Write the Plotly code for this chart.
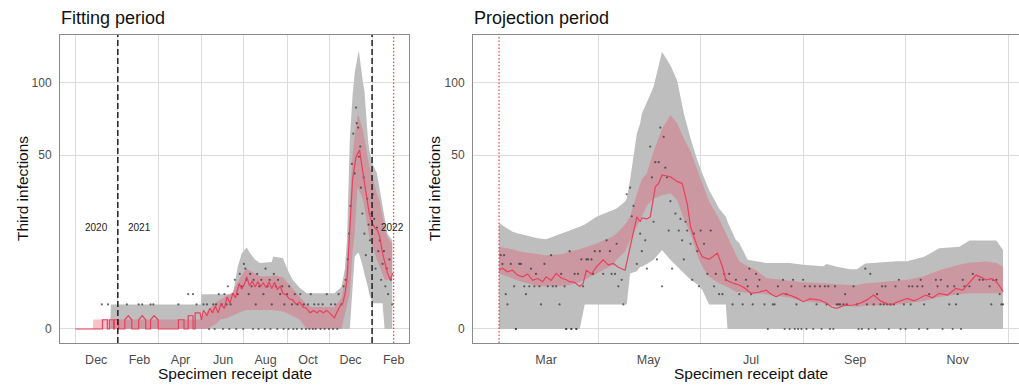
import numpy as np
import plotly.graph_objects as go

W, H = 1019, 385

# ---------------- Fitting period data ----------------
fit_band_dates = ["2020-11-01", "2020-11-26", "2020-11-27", "2020-12-21", "2020-12-22", "2021-04-30",
                  "2021-05-01", "2021-05-09", "2021-05-23", "2021-05-28", "2021-06-07", "2021-06-15",
                  "2021-06-18", "2021-06-22", "2021-06-28", "2021-07-05", "2021-07-10", "2021-07-17",
                  "2021-07-24", "2021-08-10", "2021-08-12", "2021-08-26", "2021-09-02", "2021-09-09",
                  "2021-09-19", "2021-09-29", "2021-10-06", "2021-11-08", "2021-11-18", "2021-11-23",
                  "2021-11-26", "2021-11-30", "2021-12-04", "2021-12-07", "2021-12-11", "2021-12-13",
                  "2021-12-19", "2021-12-21", "2021-12-26", "2021-12-28", "2022-01-02", "2022-01-08",
                  "2022-01-12", "2022-01-16", "2022-01-19", "2022-01-23", "2022-01-30"]
fit_grey_lo = [0, 0, 0, 0, 0, 0, 0, 0, 0, 0, 0, 0, 0, 0, 0, 0, 0, 0, 0, 0, 0, 0, 0, 0, 0, 0, 0, 0, 0, 0,
               0, 0, 2.1, 8.6, 9.5, 9.5, 6.3, 5, 2.9, 2, 1.1, 1.1, 1.1, 1.1, 0, 0, 0]
fit_grey_hi = [0, 0, 0, 0, 1, 1, 2, 2, 2, 2, 2, 2, 3.5, 6.3, 9.5, 11, 9.5, 7.9, 7.2, 7.4, 8.6, 8.3, 5.7,
               4.0, 2.8, 2.1, 2.1, 2.1, 2.9, 6, 13, 59, 90, 108, 122, 128, 100, 94, 60, 53, 45, 40, 32,
               25, 20, 15, 13]
fit_pink_lo = [0, 0, 0, 0, 0, 0, 0, 0, 0.05, 0.15, 0.2, 0.3, 0.35, 0.4, 0.5, 0.6, 0.6, 0.6, 0.6, 0.6,
               0.6, 0.5, 0.4, 0.3, 0.15, 0, 0, 0, 0, 0.3, 1.0, 2.1, 10, 15, 33, 32, 27.5, 24, 17, 14, 11,
               8, 6.3, 5, 4, 4, 4]
fit_pink_hi = [0, 0, 0.15, 0.15, 0.15, 0.15, 0.2, 0.5, 1.2, 1.4, 1.8, 2.3, 2.8, 3.5, 4.8, 6.0, 5.6, 5.0,
               4.6, 4.6, 4.8, 4.4, 3.5, 2.6, 1.7, 1.0, 0.8, 0.8, 1.6, 4, 8, 27.5, 50, 61, 75, 75, 65, 60,
               48, 44, 38, 30, 27, 20, 17, 14, 12]

fit_med_dates = ["2020-11-01", "2020-12-10", "2020-12-10", "2020-12-17", "2020-12-17", "2020-12-20",
                 "2020-12-20", "2020-12-26", "2020-12-26", "2020-12-27", "2020-12-27", "2021-01-02",
                 "2021-01-02", "2021-01-11", "2021-01-11", "2021-01-16", "2021-01-21", "2021-01-21",
                 "2021-01-31", "2021-01-31", "2021-02-05", "2021-02-10", "2021-02-10", "2021-02-17",
                 "2021-02-17", "2021-02-22", "2021-02-28", "2021-02-28", "2021-03-29", "2021-03-29",
                 "2021-04-06", "2021-04-06", "2021-04-12", "2021-04-12", "2021-04-19", "2021-04-19",
                 "2021-04-22", "2021-04-22", "2021-04-29", "2021-05-01", "2021-05-04", "2021-05-09",
                 "2021-05-13", "2021-05-17", "2021-05-21", "2021-05-25", "2021-05-29", "2021-06-03",
                 "2021-06-07", "2021-06-11", "2021-06-15", "2021-06-19", "2021-06-24", "2021-06-28",
                 "2021-07-02", "2021-07-05", "2021-07-09", "2021-07-13", "2021-07-17", "2021-07-21",
                 "2021-07-25", "2021-07-29", "2021-08-02", "2021-08-06", "2021-08-10", "2021-08-14",
                 "2021-08-18", "2021-08-22", "2021-08-26", "2021-08-31", "2021-09-04", "2021-09-09",
                 "2021-09-14", "2021-09-19", "2021-09-24", "2021-09-29", "2021-10-04", "2021-10-09",
                 "2021-10-14", "2021-10-18", "2021-10-23", "2021-10-28", "2021-11-01", "2021-11-05",
                 "2021-11-08", "2021-11-11", "2021-11-16", "2021-11-20", "2021-11-23", "2021-11-26",
                 "2021-11-30", "2021-12-04", "2021-12-09", "2021-12-14", "2021-12-19", "2021-12-24",
                 "2021-12-28", "2022-01-01", "2022-01-05", "2022-01-09", "2022-01-12", "2022-01-16",
                 "2022-01-20", "2022-01-23", "2022-01-27", "2022-01-31"]
fit_med_vals = [0, 0, 0.14, 0.14, 0, 0, 0.14, 0.14, 0, 0, 0.14, 0.14, 0, 0, 0.14, 0.29, 0.14, 0,
                0, 0.14, 0.29, 0.14, 0, 0, 0.14, 0.29, 0.14, 0, 0, 0.14, 0.14, 0, 0, 0.29, 0.29, 0,
                0, 0.43, 0.43, 0.14, 0.57, 0.29, 0.71, 0.43, 0.86, 0.43, 1.0, 0.71, 1.7, 1.1, 2.1,
                1.6, 3.4, 2.6, 3.4, 4.5, 3.1, 3.8, 2.9, 3.7, 3.0, 3.5, 2.8, 3.7, 2.7, 3.6, 2.6, 3.0,
                2.1, 1.9, 1.5, 1.4, 1.0, 1.2, 0.8, 0.7, 0.43, 0.57, 0.43, 0.57, 0.43, 0.57, 0.43,
                0.29, 0.2, 0.43, 0.86, 1.1, 2.0, 4.0, 17, 37, 49, 53, 40, 29, 22, 18.6, 17, 16, 14,
                9.5, 7, 5.2, 4.0, 5.2]

fit_obs_dates = ["2020-12-09", "2020-12-18", "2021-01-14", "2021-01-31", "2021-02-05", "2021-02-17",
                 "2021-02-21", "2021-03-29", "2021-04-12", "2021-04-19", "2021-04-24", "2021-05-04",
                 "2021-05-09", "2021-05-18", "2021-05-22", "2021-05-26", "2021-05-30", "2021-06-03",
                 "2021-06-06", "2021-06-08", "2021-06-12", "2021-06-15", "2021-06-18", "2021-06-22",
                 "2021-06-25", "2021-06-28", "2021-07-01", "2021-07-03", "2021-07-05", "2021-07-08",
                 "2021-07-10", "2021-07-12", "2021-07-15", "2021-07-18", "2021-07-20", "2021-07-23",
                 "2021-07-26", "2021-07-29", "2021-08-01", "2021-08-04", "2021-08-07", "2021-08-10",
                 "2021-08-13", "2021-08-16", "2021-08-19", "2021-08-22", "2021-08-25", "2021-08-28",
                 "2021-09-01", "2021-09-04", "2021-09-08", "2021-09-12", "2021-09-16", "2021-09-20",
                 "2021-09-25", "2021-10-01", "2021-10-05", "2021-10-10", "2021-10-16", "2021-10-22",
                 "2021-10-28", "2021-11-03", "2021-11-09", "2021-11-14", "2021-11-18", "2021-11-21",
                 "2021-11-24", "2021-05-12", "2021-05-20", "2021-06-01", "2021-06-10", "2021-06-20",
                 "2021-06-30", "2021-07-14", "2021-07-22", "2021-07-31", "2021-08-08", "2021-08-18",
                 "2021-08-27", "2021-09-03", "2021-09-10", "2021-09-15", "2021-09-22", "2021-09-28",
                 "2021-10-03", "2021-10-08", "2021-10-12", "2021-10-19", "2021-10-25", "2021-10-31",
                 "2021-11-06", "2021-11-12", "2021-11-27", "2021-11-29", "2021-12-01", "2021-12-03",
                 "2021-12-05", "2021-12-07", "2021-12-09", "2021-12-10", "2021-12-12", "2021-12-13",
                 "2021-12-15", "2021-12-16", "2021-12-18", "2021-12-20", "2021-12-21", "2021-12-23",
                 "2021-12-25", "2021-12-27", "2021-12-29", "2021-12-31", "2022-01-02", "2022-01-04",
                 "2022-01-06", "2022-01-08", "2022-01-10", "2022-01-12", "2022-01-14", "2022-01-16",
                 "2022-01-18", "2022-01-20", "2022-01-22", "2022-01-24", "2022-01-26", "2022-01-28",
                 "2022-01-30"]
fit_obs_vals = [1, 1, 1, 1, 1, 1, 1, 1, 2, 2, 1, 1, 1, 1, 1, 2, 1, 2, 1, 3, 1, 2, 4, 2, 5, 3, 7, 6, 4,
                2, 5, 3, 4, 1, 5, 3, 4, 2, 6, 3, 4, 1, 5, 3, 4, 2, 3, 1, 2, 3, 1, 2, 1, 2, 1, 1, 2, 1,
                1, 1, 2, 1, 1, 2, 1, 3, 4, 0, 0, 0, 0, 0, 0, 0, 0, 0, 0, 0, 0, 0, 0, 0, 0, 0, 0, 0, 0,
                0, 0, 0, 0, 0, 8, 15, 25, 45, 63, 40, 81, 70, 67, 49, 55, 33, 22, 38, 15, 9, 28, 18, 13,
                22, 30, 20, 6, 17, 10, 13, 4, 7, 10, 3, 6, 2, 8, 4, 1]

fit_tick_dates = ["2020-12-01", "2021-02-01", "2021-04-01", "2021-06-01", "2021-08-01", "2021-10-01",
                  "2021-12-01", "2022-02-01"]
fit_tick_labels = ["Dec", "Feb", "Apr", "Jun", "Aug", "Oct", "Dec", "Feb"]
fit_grid_dates = ["2020-11-01", "2021-01-01", "2021-03-01", "2021-05-01", "2021-07-01", "2021-09-01",
                  "2021-11-01", "2022-01-01"]
fit_year_dates = ["2021-01-01", "2022-01-01"]
fit_year_labels = ["2020", "2021", "2022"]
fit_year_label_dates = ["2020-12-01", "2021-02-01", "2022-01-31"]
projection_start = "2022-02-01"

# ---------------- Projection period data ----------------
proj_band_dates = ["2022-02-01", "2022-02-09", "2022-02-13", "2022-02-24", "2022-03-01", "2022-03-11",
                   "2022-03-15", "2022-03-21", "2022-03-24", "2022-03-31", "2022-04-10", "2022-04-12",
                   "2022-04-17", "2022-04-18", "2022-04-20", "2022-04-24", "2022-04-26", "2022-04-27",
                   "2022-04-30", "2022-05-04", "2022-05-09", "2022-05-14", "2022-05-18", "2022-05-22",
                   "2022-05-26", "2022-05-30", "2022-06-02", "2022-06-06", "2022-06-12", "2022-06-16",
                   "2022-06-17", "2022-06-22", "2022-06-24", "2022-06-29", "2022-07-04", "2022-07-10",
                   "2022-07-24", "2022-08-01", "2022-08-13", "2022-08-15", "2022-08-21", "2022-08-29",
                   "2022-09-02", "2022-09-07", "2022-09-26", "2022-10-02", "2022-10-12", "2022-10-21",
                   "2022-11-02", "2022-11-08", "2022-11-18", "2022-11-24", "2022-11-28"]
proj_grey_lo = [0, 0, 0, 0, 0, 0, 0, 0, 1, 1, 1, 1, 1, 1, 5.1, 5.5, 6.4, 6.4, 7, 7.9, 10.3, 7.9, 6.4,
                5.1, 4, 3.3, 2.5, 1, 1, 1, 0, 0, 0, 0, 0, 0, 0, 0, 0, 0, 0, 0, 0, 0, 0, 0, 0, 0, 0, 0,
                0, 0, 0]
proj_grey_hi = [18.6, 15.6, 15, 13.6, 13.3, 15.1, 16, 17.3, 18, 20.8, 23.4, 24, 26.8, 28, 36.7, 63, 70,
                76.8, 85, 97, 127, 115, 102, 76.8, 60, 47.2, 40, 31.9, 24, 20.8, 19, 13.1, 12.2, 7.9,
                7.6, 7.2, 7.2, 6.8, 6.5, 7.0, 6.4, 5.9, 5.9, 7.1, 7.6, 7.6, 8.6, 10.8, 11.2, 12.9,
                12.9, 12.9, 10.3]
proj_pink_lo = [5.1, 4.2, 3.8, 3.0, 3.0, 3.1, 3.2, 3.6, 4.0, 5.1, 6.8, 7.9, 10, 11, 13, 17.3, 20, 21,
                25, 28, 29.5, 30.4, 27.5, 20, 15.1, 9, 6.4, 4.5, 3.45, 3.0, 2.9, 2.3, 2.3, 2.2, 2.1,
                2.0, 1.6, 1.3, 1.1, 1.0, 0.9, 0.85, 0.82, 0.9, 1.0, 1.1, 1.3, 1.7, 2.0, 2.1, 2.1, 2.1,
                2.1]
proj_pink_hi = [11.2, 10.5, 9.9, 9.2, 9.0, 9.3, 9.9, 10.5, 11, 12.1, 14.2, 15.1, 18, 19, 20.8, 30, 35,
                37, 40, 52, 66, 75.6, 70, 60, 52, 42, 35, 27, 20, 15, 14, 9, 7.5, 6.5, 5.7, 4.3, 3.9,
                3.6, 3.45, 3.4, 3.3, 3.2, 3.2, 3.4, 3.8, 4.0, 4.6, 5.7, 6.8, 7.3, 7.5, 7.2, 6.4]

proj_med_dates = ["2022-02-01", "2022-02-03", "2022-02-06", "2022-02-09", "2022-02-12", "2022-02-15",
                  "2022-02-18", "2022-02-21", "2022-02-24", "2022-02-27", "2022-03-01", "2022-03-04",
                  "2022-03-07", "2022-03-10", "2022-03-13", "2022-03-15", "2022-03-18", "2022-03-21",
                  "2022-03-23", "2022-03-25", "2022-03-28", "2022-03-31", "2022-04-04", "2022-04-07",
                  "2022-04-10", "2022-04-13", "2022-04-17", "2022-04-20", "2022-04-22", "2022-04-24",
                  "2022-04-26", "2022-04-27", "2022-04-30", "2022-05-02", "2022-05-05", "2022-05-07",
                  "2022-05-09", "2022-05-12", "2022-05-14", "2022-05-18", "2022-05-21", "2022-05-24",
                  "2022-05-26", "2022-05-30", "2022-06-02", "2022-06-06", "2022-06-08", "2022-06-11",
                  "2022-06-14", "2022-06-16", "2022-06-20", "2022-06-24", "2022-06-27", "2022-07-01",
                  "2022-07-05", "2022-07-10", "2022-07-13", "2022-07-16", "2022-07-20", "2022-07-24",
                  "2022-07-28", "2022-08-01", "2022-08-05", "2022-08-11", "2022-08-15", "2022-08-18",
                  "2022-08-21", "2022-08-25", "2022-08-31", "2022-09-04", "2022-09-08", "2022-09-12",
                  "2022-09-16", "2022-09-22", "2022-09-26", "2022-10-02", "2022-10-06", "2022-10-13",
                  "2022-10-17", "2022-10-21", "2022-10-26", "2022-10-31", "2022-11-04", "2022-11-08",
                  "2022-11-12", "2022-11-15", "2022-11-18", "2022-11-21", "2022-11-24", "2022-11-26",
                  "2022-11-28"]
proj_med_vals = [5.7, 6.1, 5.4, 5.7, 4.8, 4.5, 5.0, 3.9, 4.2, 3.7, 4.5, 3.9, 5.1, 4.3, 4.0, 3.7, 3.6,
                 3.0, 3.4, 5.7, 5.0, 6.4, 7.9, 6.8, 7.1, 6.3, 5.7, 11.2, 16, 20.8, 19, 20.4, 20, 20.8,
                 33.4, 35, 39.2, 38.5, 38.3, 36, 35, 26, 17.3, 11.2, 8.6, 8.0, 8.6, 9.5, 6.4, 4.0, 3.5,
                 3.2, 2.8, 2.1, 2.2, 2.5, 2.0, 1.7, 2.1, 1.9, 1.6, 1.23, 1.5, 1.39, 1.1, 0.8, 0.71, 0.9,
                 0.95, 1.1, 1.4, 1.9, 1.3, 0.95, 1.2, 1.55, 1.3, 1.9, 1.6, 2.1, 1.9, 2.73, 2.5, 3.5,
                 4.8, 4.4, 4.0, 4.2, 3.7, 3.0, 2.3]

proj_obs_dates = ["2022-02-02", "2022-02-03", "2022-02-04", "2022-02-05", "2022-02-06", "2022-02-08",
                  "2022-02-10", "2022-02-11", "2022-02-13", "2022-02-14", "2022-02-16", "2022-02-17",
                  "2022-02-19", "2022-02-20", "2022-02-22", "2022-02-23", "2022-02-25", "2022-02-26",
                  "2022-02-28", "2022-03-02", "2022-03-04", "2022-03-05", "2022-03-07", "2022-03-09",
                  "2022-03-10", "2022-03-12", "2022-03-13", "2022-03-15", "2022-03-16", "2022-03-18",
                  "2022-03-19", "2022-03-20", "2022-03-22", "2022-03-23", "2022-03-25", "2022-03-26",
                  "2022-03-28", "2022-03-29", "2022-03-30", "2022-04-02", "2022-04-04", "2022-04-06",
                  "2022-04-08", "2022-04-09", "2022-04-11", "2022-04-12", "2022-04-13", "2022-04-15",
                  "2022-04-16", "2022-04-18", "2022-04-20", "2022-04-21", "2022-04-22", "2022-04-24",
                  "2022-04-26", "2022-04-27", "2022-04-29", "2022-04-30", "2022-05-02", "2022-05-03",
                  "2022-05-04", "2022-05-05", "2022-05-06", "2022-05-07", "2022-05-08", "2022-05-09",
                  "2022-05-10", "2022-05-11", "2022-05-12", "2022-05-13", "2022-05-14", "2022-05-15",
                  "2022-05-17", "2022-05-19", "2022-05-20", "2022-05-21", "2022-05-22", "2022-05-23",
                  "2022-05-24", "2022-05-26", "2022-05-27", "2022-05-28", "2022-05-30", "2022-05-31",
                  "2022-06-01", "2022-06-03", "2022-06-05", "2022-06-07", "2022-06-09", "2022-06-10",
                  "2022-06-12", "2022-06-14", "2022-06-15", "2022-06-16", "2022-06-18", "2022-06-20",
                  "2022-06-22", "2022-06-24", "2022-06-26", "2022-06-28", "2022-06-30",
                  "2022-06-29", "2022-07-04", "2022-07-06", "2022-07-20", "2022-07-26", "2022-08-01",
                  "2022-09-07", "2022-09-10", "2022-09-27", "2022-10-10", "2022-10-19", "2022-10-22",
                  "2022-11-04", "2022-11-10", "2022-11-14", "2022-11-16", "2022-11-22", "2022-11-24",
                  "2022-07-05", "2022-07-17", "2022-07-25", "2022-08-02", "2022-08-05", "2022-08-08",
                  "2022-08-11", "2022-08-14", "2022-08-16", "2022-08-20", "2022-08-31", "2022-09-17",
                  "2022-09-19", "2022-09-25", "2022-10-03", "2022-10-05", "2022-10-08", "2022-10-11",
                  "2022-10-20", "2022-10-26", "2022-10-30", "2022-11-05", "2022-11-08", "2022-11-20",
                  "2022-07-01", "2022-07-22", "2022-08-26", "2022-09-14", "2022-10-15", "2022-11-01",
                  "2022-11-26", "2022-07-02", "2022-07-09", "2022-07-14", "2022-07-15", "2022-07-28",
                  "2022-08-09", "2022-08-15", "2022-08-21", "2022-08-22", "2022-08-23", "2022-08-25",
                  "2022-08-27", "2022-09-02", "2022-09-08", "2022-09-12", "2022-09-16", "2022-09-18",
                  "2022-09-20", "2022-09-22", "2022-09-24", "2022-09-30", "2022-10-04", "2022-10-12",
                  "2022-10-27", "2022-10-31", "2022-11-21", "2022-11-27", "2022-11-28",
                  "2022-07-11", "2022-07-21", "2022-07-24", "2022-07-27", "2022-07-29", "2022-07-31",
                  "2022-08-03", "2022-08-07", "2022-08-12", "2022-08-17", "2022-08-19", "2022-09-03",
                  "2022-09-05", "2022-09-09", "2022-09-13", "2022-09-21", "2022-09-28", "2022-10-01",
                  "2022-10-09", "2022-10-14", "2022-10-23", "2022-10-29", "2022-11-03",
                  "2022-02-11", "2022-03-13", "2022-03-16", "2022-03-19"]
proj_obs_vals = [9, 7, 9, 2, 1, 7, 3, 0, 7, 7, 3, 2, 3, 6, 3, 5, 3, 1, 7, 3, 9, 3, 3, 1, 5, 3, 0, 10,
                 0, 5, 0, 5, 8, 3, 8, 8, 8, 5, 10, 10, 5, 13, 10, 5, 5, 12, 3, 4, 1, 30, 33, 21, 25, 7,
                 15, 10, 13, 6, 55, 38, 19, 46, 8, 46, 67, 3, 61, 43, 38, 16, 27, 6, 22, 16, 20, 13, 8,
                 19, 16, 12, 4, 15, 10, 3, 16, 12, 5, 16, 3, 5, 2, 2, 5, 4, 5, 1, 4, 2, 1, 4, 6,
                 3, 5, 4, 4, 4, 4, 6, 5, 4, 4, 4, 4, 4, 5, 4, 4, 4, 4,
                 3, 3, 3, 3, 3, 3, 3, 3, 3, 3, 3, 3, 3, 3, 3, 3, 3, 3, 3, 3, 3, 3, 3, 3,
                 2, 2, 2, 2, 2, 2, 2, 1, 1, 1, 1, 1, 1, 1, 1, 1, 1, 1, 1, 1, 1, 1, 1, 1, 1, 1, 1, 1,
                 1, 1, 1, 1, 1, 1, 1, 0, 0, 0, 0, 0, 0, 0, 0, 0, 0, 0, 0, 0, 0, 0, 0, 0, 0, 0, 0, 0, 0,
                 0, 0, 0, 0, 0]

proj_tick_dates = ["2022-03-01", "2022-05-01", "2022-07-01", "2022-09-01", "2022-11-01"]
proj_tick_labels = ["Mar", "May", "Jul", "Sep", "Nov"]
proj_grid_dates = ["2022-04-01", "2022-06-01", "2022-08-01", "2022-10-01", "2022-12-01"]

y_tick_values = [0, 50, 100]

# ---------------- styling ----------------
GREY = "#BEBEBE"
PINK = "rgba(228,80,110,0.35)"
RED = "#E8405E"
DOT = "rgba(45,45,45,0.7)"
FONT = "Liberation Sans, Arial, sans-serif"


def sq(v):
    return np.sqrt(np.asarray(v, dtype=float))


fig = go.Figure()


def add_panel(xa, ya, dates, glo, ghi, plo, phi, mdates, mvals, odates, ovals):
    fig.add_trace(go.Scatter(x=list(dates) + list(dates)[::-1],
                             y=np.concatenate([sq(ghi), sq(glo)[::-1]]),
                             fill="toself", fillcolor=GREY, line=dict(width=0),
                             mode="lines", hoverinfo="skip", showlegend=False, xaxis=xa, yaxis=ya))
    fig.add_trace(go.Scatter(x=list(dates) + list(dates)[::-1],
                             y=np.concatenate([sq(phi), sq(plo)[::-1]]),
                             fill="toself", fillcolor=PINK, line=dict(width=0),
                             mode="lines", hoverinfo="skip", showlegend=False, xaxis=xa, yaxis=ya))
    fig.add_trace(go.Scatter(x=odates, y=sq(ovals), mode="markers",
                             marker=dict(size=2.2, color=DOT), showlegend=False, xaxis=xa, yaxis=ya))
    fig.add_trace(go.Scatter(x=mdates, y=sq(mvals), mode="lines",
                             line=dict(color=RED, width=1.2), showlegend=False, xaxis=xa, yaxis=ya))


add_panel("x", "y", fit_band_dates, fit_grey_lo, fit_grey_hi, fit_pink_lo, fit_pink_hi,
          fit_med_dates, fit_med_vals, fit_obs_dates, fit_obs_vals)
add_panel("x2", "y2", proj_band_dates, proj_grey_lo, proj_grey_hi, proj_pink_lo, proj_pink_hi,
          proj_med_dates, proj_med_vals, proj_obs_dates, proj_obs_vals)

px_x = lambda p: p / W
px_y = lambda p: 1 - p / H

ydom = [px_y(343), px_y(35)]
yrange = [-0.57, 11.95]
GRID = "#DCDCDC"
LINE = "#8A8A8A"
TICKFONT = dict(family=FONT, size=12, color="#4D4D4D")

common_x = dict(type="date", showgrid=False, zeroline=False, showline=True, linecolor=LINE,
                linewidth=1, mirror=True, ticks="outside", ticklen=5, tickcolor="rgba(0,0,0,0)",
                tickfont=dict(family=FONT, size=12.5, color="#4D4D4D"), fixedrange=True)
common_y = dict(range=yrange, tickvals=list(sq(y_tick_values)), ticktext=[str(v) for v in y_tick_values],
                showgrid=True, gridcolor=GRID, gridwidth=1, zeroline=False, showline=True,
                linecolor=LINE, linewidth=1, ticks="outside", ticklen=5, tickcolor="rgba(0,0,0,0)",
                tickfont=TICKFONT, fixedrange=True, domain=ydom)

fig.update_layout(
    width=W, height=H, margin=dict(l=0, r=0, t=0, b=0),
    paper_bgcolor="white", plot_bgcolor="white", showlegend=False, hovermode=False,
    xaxis=dict(common_x, domain=[px_x(60), px_x(409)], range=["2020-10-10", "2022-02-23"],
               tickvals=fit_tick_dates, ticktext=fit_tick_labels, anchor="y",
               minor=dict(tickvals=fit_grid_dates, showgrid=True, gridcolor=GRID, gridwidth=1, ticks="")),
    yaxis=dict(common_y, anchor="x", mirror=True),
    xaxis2=dict(common_x, domain=[px_x(473), 1.0], range=["2022-01-16 12:00", "2022-12-07 12:00"],
                tickvals=proj_tick_dates, ticktext=proj_tick_labels, anchor="y2",
                minor=dict(tickvals=proj_grid_dates, showgrid=True, gridcolor=GRID, gridwidth=1, ticks="")),
    yaxis2=dict(common_y, anchor="x2", mirror=False),
)

# vertical reference lines
for d in fit_year_dates:
    fig.add_shape(type="line", xref="x", yref="y domain", x0=d, x1=d, y0=0, y1=1,
                  line=dict(color="#222222", width=1.5, dash="6px,3px"))
for xa in ["x", "x2"]:
    fig.add_shape(type="line", xref=xa, yref="y domain" if xa == "x" else "y2 domain",
                  x0=projection_start, x1=projection_start, y0=0, y1=1,
                  line=dict(color="#E0443C", width=1.2, dash="1.5px,2px"))

# year labels
for lab, d in zip(fit_year_labels, fit_year_label_dates):
    fig.add_annotation(x=d, y=float(sq(16.94)), xref="x", yref="y", text=lab, showarrow=False,
                       font=dict(family=FONT, size=10, color="#1A1A1A"), xanchor="center", yanchor="middle")

# titles and axis titles
for txt, x0 in [("Fitting period", 60), ("Projection period", 473)]:
    fig.add_annotation(x=px_x(x0 - 1), y=px_y(18), xref="paper", yref="paper", text=txt, showarrow=False,
                       xanchor="left", yanchor="middle", font=dict(family=FONT, size=18, color="#111111"))
for xc in [234.5, 751]:
    fig.add_annotation(x=px_x(xc), y=px_y(373), xref="paper", yref="paper", text="Specimen receipt date",
                       showarrow=False, xanchor="center", yanchor="middle",
                       font=dict(family=FONT, size=15.5, color="#111111"))
for xc in [22, 434]:
    fig.add_annotation(x=px_x(xc), y=px_y(189), xref="paper", yref="paper", text="Third infections",
                       showarrow=False, xanchor="center", yanchor="middle", textangle=-90,
                       font=dict(family=FONT, size=15.5, color="#111111"))

fig.write_html("out.html", config={"displayModeBar": False, "staticPlot": True},
               post_script="document.body.style.margin='0px';document.body.style.padding='0px';"
                           "document.body.style.overflow='hidden';")
